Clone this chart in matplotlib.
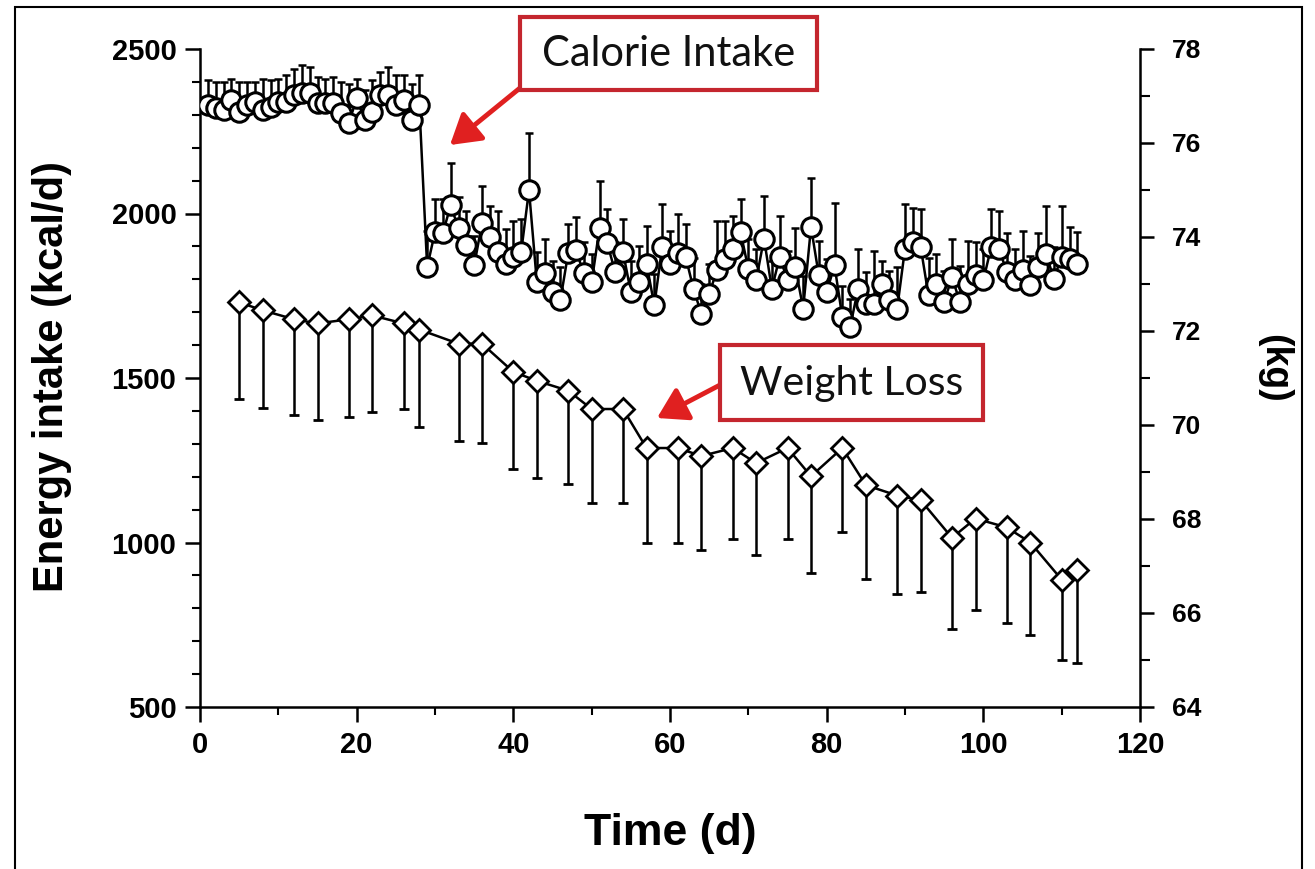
import matplotlib
matplotlib.use('Agg')
import matplotlib.pyplot as plt
import numpy as np
from matplotlib.patches import Rectangle
from matplotlib.ticker import MultipleLocator

plt.rcParams['font.family'] = ['Liberation Sans', 'DejaVu Sans']
plt.rcParams['font.weight'] = 'bold'

# Energy intake (kcal/d), daily, days 1..112, upper SD only
intake_days = list(range(1, 113))
intake = [2330, 2320, 2315, 2345, 2310, 2330, 2340, 2315, 2325, 2340,
          2340, 2360, 2365, 2365, 2335, 2335, 2335, 2305, 2275, 2350,
          2285, 2310, 2360, 2360, 2330, 2345, 2285, 2330,
          1837, 1944, 1940, 2025, 1955, 1903, 1842, 1970, 1929, 1883, 1848, 1868, 1883, 2071,
          1792, 1818, 1761, 1736, 1879, 1888, 1818, 1792, 1955, 1909, 1822, 1883, 1761, 1792, 1848, 1721,
          1898, 1848, 1879, 1868, 1771, 1695, 1756, 1827, 1863, 1893,
          1944, 1832, 1797, 1924, 1771, 1868, 1797, 1837, 1711, 1959,
          1812, 1761, 1842, 1685, 1655, 1771, 1726, 1726, 1787, 1736, 1711,
          1893, 1913, 1898, 1751, 1787, 1731, 1807, 1731, 1787, 1812, 1797,
          1898, 1893, 1822, 1797, 1827, 1782, 1837, 1878, 1802, 1868, 1863, 1848]
intake_sd = [75, 80, 85, 65, 90, 70, 60, 95, 80, 70, 80, 80, 85, 80, 80, 75, 80, 95, 120, 60,
             90, 95, 70, 85, 90, 75, 110, 90,
             110, 100, 105, 130, 95, 105, 90, 115, 95, 125, 105, 110, 100, 175,
             90, 105, 95, 100, 90, 100, 95, 85, 145, 105, 90, 100, 95, 110, 115, 95,
             130, 100, 120, 100, 95, 90, 90, 150, 115, 100,
             100, 90, 95, 130, 85, 125, 90, 120, 100, 150,
             105, 100, 190, 95, 85, 120, 95, 160, 70, 90, 125,
             135, 105, 115, 115, 90, 95, 115, 110, 130, 100, 95,
             115, 115, 120, 95, 120, 90, 105, 145, 95, 155, 95, 95]

# Body weight (kg), lower SD only
weight_days = [5, 8, 12, 15, 19, 22, 26, 28, 33, 36, 40, 43, 47, 50, 54, 57,
               61, 64, 68, 71, 75, 78, 82, 85, 89, 92, 96, 99, 103, 106, 110, 112]
weight = [72.61, 72.44, 72.25, 72.16, 72.25, 72.33, 72.16, 72.03, 71.73, 71.73, 71.13,
          70.94, 70.73, 70.34, 70.34, 69.51, 69.51, 69.34, 69.51, 69.19, 69.51, 68.91,
          69.51, 68.72, 68.50, 68.40, 67.60, 68.01, 67.82, 67.50, 66.71, 66.92]
weight_sd = [2.05, 2.08, 2.04, 2.05, 2.08, 2.05, 1.82, 2.07, 2.07, 2.11, 2.07, 2.07,
             1.99, 2.01, 2.01, 2.03, 2.03, 1.99, 1.93, 1.95, 1.93, 2.05, 1.78, 1.99,
             2.09, 1.95, 1.94, 1.95, 2.03, 1.97, 1.71, 1.99]

W, H = 1315, 869


def fx(px):
    return px / W


def fy(py):
    return 1 - py / H


fig = plt.figure(figsize=(13.15, 8.69), dpi=100)
ax = fig.add_axes([fx(200), fy(707), fx(1140) - fx(200), fy(49) - fy(707)])
ax2 = ax.twinx()

# intake: circles with upward error bars
ax.errorbar(intake_days, intake, yerr=[np.zeros(len(intake_sd)), intake_sd], fmt='none',
            ecolor='black', elinewidth=1.8, capsize=3, capthick=1.8, zorder=2)
ax.plot(intake_days, intake, '-o', color='black', lw=1.8, ms=14, mfc='white',
        mec='black', mew=2.2, zorder=3)

# weight: diamonds with downward error bars
ax2.errorbar(weight_days, weight, yerr=[weight_sd, np.zeros(len(weight_sd))], fmt='none',
             ecolor='black', elinewidth=1.8, capsize=3.5, capthick=2, zorder=2)
ax2.plot(weight_days, weight, '-D', color='black', lw=1.8, ms=11.5, mfc='white',
         mec='black', mew=2, zorder=3)

ax.set_xlim(0, 120)
ax.set_ylim(500, 2500)
ax2.set_ylim(64, 78)
ax.set_xticks([0, 20, 40, 60, 80, 100, 120])
ax.set_yticks([500, 1000, 1500, 2000, 2500])
ax2.set_yticks([64, 66, 68, 70, 72, 74, 76, 78])
ax.xaxis.set_minor_locator(MultipleLocator(10))
ax.yaxis.set_minor_locator(MultipleLocator(100))
ax2.yaxis.set_minor_locator(MultipleLocator(1))

ax.tick_params(which='major', direction='out', length=11, width=1.8, labelsize=21, pad=6)
ax.tick_params(which='minor', direction='out', length=6, width=1.5)
ax2.tick_params(which='major', direction='out', length=10, width=1.8, labelsize=19, pad=13)
ax2.tick_params(which='minor', direction='out', length=7, width=1.5)

for s in ['top', 'right']:
    ax.spines[s].set_visible(False)
for s in ['top', 'left', 'bottom']:
    ax2.spines[s].set_visible(False)
for sp in [ax.spines['left'], ax.spines['bottom'], ax2.spines['right']]:
    sp.set_linewidth(1.8)

fig.text(fx(52), fy(376), 'Energy intake (kcal/d)', rotation=90, ha='center', va='center',
         fontsize=30)
fig.text(fx(670), fy(845), 'Time (d)', ha='center', va='baseline', fontsize=32)
fig.text(fx(1274), fy(368), '(kg)', rotation=270, ha='center', va='center', fontsize=27)

# outer frame
fig.patches.append(Rectangle((fx(15), -0.01), fx(1302) - fx(15), fy(7) + 0.01,
                             transform=fig.transFigure, fill=False, ec='black', lw=1.5))

box_red = '#c4262e'
arrow_red = '#e02020'
for (x0, y0, x1, y1, label, size) in [(520, 17, 817, 90, 'Calorie Intake', 30),
                                      (720, 345, 983, 420, 'Weight Loss', 29.5)]:
    fig.patches.append(Rectangle((fx(x0), fy(y1)), fx(x1) - fx(x0), fy(y0) - fy(y1),
                                 transform=fig.transFigure, fc='white', ec=box_red,
                                 lw=3, zorder=5))
    fig.text(fx((x0 + x1) / 2), fy((y0 + y1) / 2 + 1), label, ha='center', va='center',
             fontsize=size, family='Lato', weight='normal', color='#111111', zorder=6)

for (xs, ys, xt, yt) in [(520, 88, 450, 145), (720, 385, 657, 418)]:
    ax2.annotate('', xy=(xt, H - yt), xytext=(xs, H - ys), xycoords='figure pixels',
                 textcoords='figure pixels', annotation_clip=False,
                 arrowprops=dict(arrowstyle='-|>,head_length=0.9,head_width=0.55',
                                 color=arrow_red, lw=3.5, shrinkA=0, shrinkB=0,
                                 mutation_scale=20))

fig.savefig('out.png', dpi=100)
